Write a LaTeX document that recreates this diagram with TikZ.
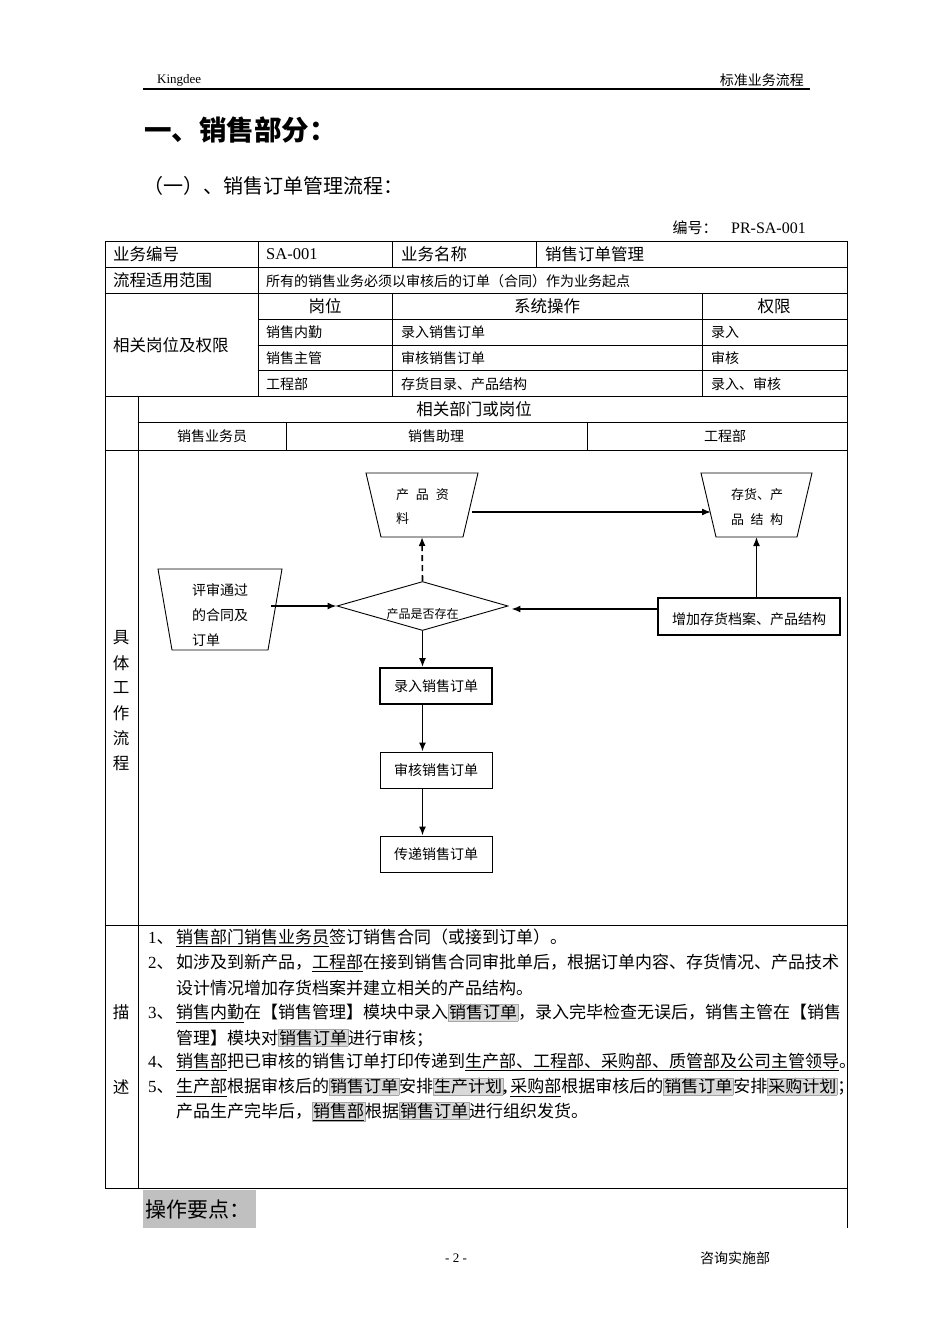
\documentclass[tikz,border=0pt]{standalone}
\usepackage{fontspec}
\usepackage{xcolor}
\usetikzlibrary{shapes.geometric,arrows.meta,calc}
\setmainfont{Noto Sans CJK SC}
\newfontfamily\tnr{Liberation Serif}
\newcommand\myfs[1]{\fontsize{#1}{#1}\selectfont}
\definecolor{hlbg}{HTML}{D9D9D9}
\definecolor{hlbd}{HTML}{A6A6A6}
\definecolor{opbg}{HTML}{C0C0C0}
\newcommand\hlbox[1]{{\setlength\fboxsep{0.5pt}\setlength\fboxrule{0.5pt}\fcolorbox{hlbd}{hlbg}{#1}}}
\newcommand\myul[1]{\underline{#1}}
\begin{document}
\begin{tikzpicture}[x=1pt,y=-1pt,
  tl/.style={inner sep=0pt,anchor=west},
  tr/.style={inner sep=0pt,anchor=east},
  tc/.style={inner sep=0pt},
  tline/.style={line width=0.9pt},
  shapeline/.style={line width=0.9pt},
  arr/.style={line width=1.6pt,-{Latex[length=9pt,width=7pt]}},
  flowbox/.style={draw,line width=0.9pt,minimum width=112pt,minimum height=36pt,inner sep=0pt},
  thickbox/.style={flowbox,line width=1.8pt}]
\fill[white] (0,0) rectangle (950,1344);
\useasboundingbox (0,0) rectangle (950,1344);

% header
\node[tl] (hk) at (157,80) {\tnr\myfs{13}Kingdee};
\node[tr] (hs) at (804,80) {\myfs{14}标准业务流程};
\draw[line width=1.2pt] (143,89) -- (810,89);

% titles
\node[tl] (t1) at (144,130) {\myfs{27.5}\bfseries 一、销售部分：};
\node[tl] (t2) at (143,186) {\myfs{20}（一）、销售订单管理流程：};
\node[tr] (t3) at (806,228) {\myfs{15}编号：\hspace{0.9em}{\tnr\myfs{16}PR-SA-001}};

% table lines
\draw[tline] (105,241) rectangle (847,1188);
\draw[tline] (847,1188) -- (847,1228);
\foreach \yy in {267,293,396,450,925} \draw[tline] (105,\yy) -- (847,\yy);
\foreach \yy in {319,345,370} \draw[tline] (258,\yy) -- (847,\yy);
\draw[tline] (138,422) -- (847,422);
\draw[tline] (258,241) -- (258,396);
\draw[tline] (392,241) -- (392,267);
\draw[tline] (392,293) -- (392,396);
\draw[tline] (536,241) -- (536,267);
\draw[tline] (702,293) -- (702,396);
\draw[tline] (138,396) -- (138,1188);
\draw[tline] (286,422) -- (286,450);
\draw[tline] (587,422) -- (587,450);

% table texts
\node[tl] (a1) at (113,254) {\myfs{16.5}业务编号};
\node[tl] (a2) at (266,254) {\tnr\myfs{16.5}SA-001};
\node[tl] (a3) at (401,254) {\myfs{16.5}业务名称};
\node[tl] (a4) at (545,254) {\myfs{16.5}销售订单管理};
\node[tl] (b1) at (113,280) {\myfs{16.5}流程适用范围};
\node[tl] (b2) at (266,281) {\myfs{14}所有的销售业务必须以审核后的订单（合同）作为业务起点};
\node[tl] (c0) at (113,345) {\myfs{16.5}相关岗位及权限};
\node[tc] (c1) at (325,306) {\myfs{16.5}岗位};
\node[tc] (c2) at (547,306) {\myfs{16.5}系统操作};
\node[tc] (c3) at (774,306) {\myfs{16.5}权限};
\node[tl] (d1) at (266,332) {\myfs{14}销售内勤};
\node[tl] (d2) at (401,332) {\myfs{14}录入销售订单};
\node[tl] (d3) at (711,332) {\myfs{14}录入};
\node[tl] (e1) at (266,358) {\myfs{14}销售主管};
\node[tl] (e2) at (401,358) {\myfs{14}审核销售订单};
\node[tl] (e3) at (711,358) {\myfs{14}审核};
\node[tl] (f1) at (266,384) {\myfs{14}工程部};
\node[tl] (f2) at (401,384) {\myfs{14}存货目录、产品结构};
\node[tl] (f3) at (711,384) {\myfs{14}录入、审核};
\node[tc] (g0) at (474,409) {\myfs{16.5}相关部门或岗位};
\node[tc] (g1) at (212,436) {\myfs{14}销售业务员};
\node[tc] (g2) at (436,436) {\myfs{14}销售助理};
\node[tc] (g3) at (725,436) {\myfs{14}工程部};
\foreach \ch/\yy [count=\i] in {具/638,体/663,工/688,作/713,流/738,程/763}
  \node[tc] (v\i) at (121,\yy) {\myfs{16.5}\ch};
\node[tc] (w1) at (121,1012) {\myfs{16.5}描};
\node[tc] (w2) at (121,1087) {\myfs{16.5}述};

% flowchart: trapezoids drawn directly
\draw[shapeline] (366,473) -- (478,473) -- (463,537) -- (381,537) -- cycle;
\coordinate (pzS) at (422,537);
\coordinate (pzE) at (472,512);
\node[tc] (pzt1) at (422.5,495) {\myfs{13}\makebox[53pt]{产\hfill 品\hfill 资}};
\node[tl] (pzt2) at (396,519) {\myfs{13}料};

\draw[shapeline] (701,473) -- (812,473) -- (797,537) -- (716,537) -- cycle;
\coordinate (chS) at (756.5,537);
\coordinate (chW) at (711,512);
\node[tl] (cht1) at (731,495) {\myfs{13}存货、产};
\node[tc] (cht2) at (757,520) {\myfs{13}\makebox[52pt]{品\hfill 结\hfill 构}};

\draw[shapeline] (158,569) -- (282,569) -- (268,650) -- (172,650) -- cycle;
\node[tl] (pst1) at (192,590) {\myfs{14}评审通过};
\node[tl] (pst2) at (192,615) {\myfs{14}的合同及};
\node[tl] (pst3) at (192,640) {\myfs{14}订单};

\node[diamond,draw,line width=0.9pt,aspect=3.5,minimum width=171pt,minimum height=49pt,inner sep=0pt] (dm) at (422.5,606) {\phantom{x}};
\coordinate (psE) at (271,606);
\node[tc] (dmt) at (422.5,614) {\myfs{12}产品是否存在};
\node[thickbox,minimum width=182pt,minimum height=37pt] (add) at (749,616.5) {\phantom{x}};
\coordinate (addW) at (658,609);
\node[tc] (addt) at (749,619) {\myfs{14}增加存货档案、产品结构};
\node[thickbox] (r1) at (436,686) {\myfs{14}录入销售订单};
\node[flowbox] (r2) at (436,770) {\myfs{14}审核销售订单};
\node[flowbox] (r3) at (436,854) {\myfs{14}传递销售订单};

\draw[arr] (pzE) -- (chW);
\draw[arr,dash pattern=on 6pt off 4pt] (dm.north) -- (pzS);
\draw[arr] (psE) -- (dm.west);
\draw[arr,shorten >=3pt] (addW) -- (addW -| dm.east);
\draw[arr] (chS |- add.north) -- (chS);
\draw[arr] (dm.south) -- (dm.south |- r1.north);
\draw[arr] (r1.south -| dm.south) -- (r2.north -| dm.south);
\draw[arr] (r2.south -| dm.south) -- (r3.north -| dm.south);

% description
\foreach \n/\yy in {1/938,2/963,3/1013,4/1062,5/1087}
  \node[tl] (n\n) at (148,\yy) {\myfs{17}{\tnr\n}、};
\node[tl] (L1) at (176,938) {\myfs{17}\myul{销售部门销售业务员}签订销售合同（或接到订单）。};
\node[tl] (L2) at (176,963) {\myfs{17}如涉及到新产品，\myul{工程部}在接到销售合同审批单后，根据订单内容、存货情况、产品技术};
\node[tl] (L3) at (176,988) {\myfs{17}设计情况增加存货档案并建立相关的产品结构。};
\node[tl] (L4) at (176,1013) {\myfs{17}\myul{销售内勤}在【销售管理】模块中录入\hlbox{销售订单}，录入完毕检查无误后，销售主管在【销售};
\node[tl] (L5) at (176,1038) {\myfs{17}管理】模块对\hlbox{销售订单}进行审核；};
\node[tl] (L6) at (176,1062) {\myfs{17}\myul{销售部}把已审核的销售订单打印传递到\myul{生产部、工程部、采购部、质管部及公司主管领导}。};
\node[tl] (L7) at (176,1087) {\myfs{17}\myul{生产部}根据审核后的\hlbox{销售订单}安排\hlbox{生产计划}{\tnr\bfseries ,}\,\myul{采购部}根据审核后的\hlbox{销售订单}安排\hlbox{采购计划}；};
\node[tl] (L8) at (176,1112) {\myfs{17}产品生产完毕后，\hlbox{\myul{销售部}}根据\hlbox{销售订单}进行组织发货。};

% operation points
\fill[opbg] (143,1190) rectangle (256,1228);
\node[tl] (op) at (145,1210) {\myfs{21}操作要点：};

% footer
\node[tc] (pg) at (456,1258) {\tnr\myfs{13}- 2 -};
\node[tl] (ft) at (700,1258) {\myfs{14}咨询实施部};
\end{tikzpicture}
\end{document}
